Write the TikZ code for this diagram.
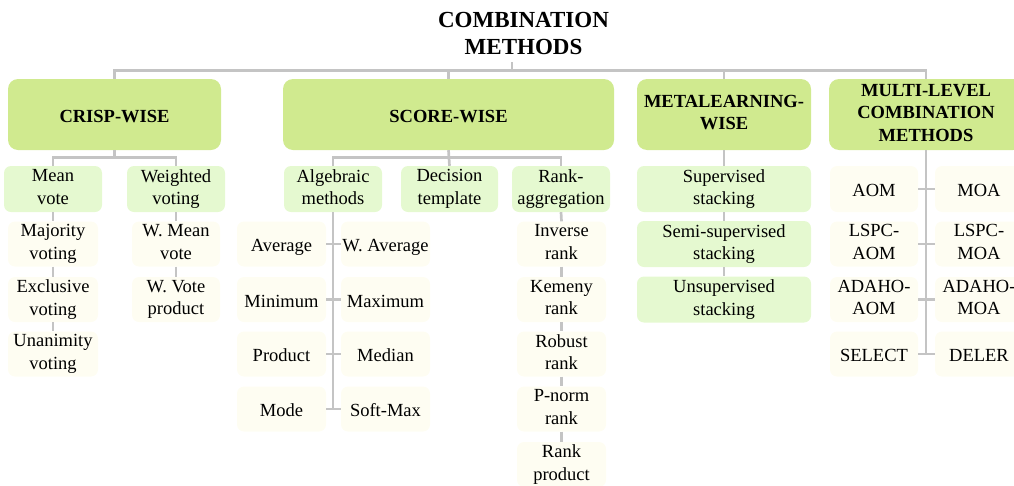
\documentclass[tikz,border=0pt]{standalone}
\usepackage{fontspec}
\setmainfont{Liberation Serif}
\usetikzlibrary{calc}

\definecolor{lvlonecol}{HTML}{D0EA8F}
\definecolor{lvltwocol}{HTML}{E5F9D0}
\definecolor{leafcol}{HTML}{FEFDF2}
\definecolor{linkcol}{HTML}{C4C4C4}

% invisible rule giving every text line the same height and depth
\newcommand\linestrut{\rule[-4pt]{0pt}{23.5pt}}

\tikzset{
  txt/.style={align=center, font=\fontsize{18.5}{22.5}\selectfont, inner sep=0pt,
    execute at begin node=\linestrut, execute at end node=\linestrut},
  lvlone/.style={fill=lvlonecol, rounded corners=10pt, align=center,
    font=\bfseries\fontsize{18.5}{22.5}\selectfont, inner sep=0pt, minimum height=71pt,
    execute at begin node=\linestrut, execute at end node=\linestrut},
  lvltwo/.style={txt, fill=lvltwocol, rounded corners=7pt, minimum height=46pt},
  leaf/.style={txt, fill=leafcol, rounded corners=7pt, minimum height=45pt},
  link/.style={draw=linkcol, line width=2.7pt}
}

\begin{document}
\begin{tikzpicture}[x=1pt, y=-1pt]
\useasboundingbox (0,0) rectangle (1014,485);

% title
\node[align=center, font=\bfseries\fontsize{23}{27}\selectfont, inner sep=0pt]
  (title) at (523.5,33.5) {COMBINATION\\METHODS};
\coordinate (ttop) at (512,62);
\coordinate (tjoin) at (512,70.5);

% first level
\node[lvlone, minimum width=213pt] (crisp) at (114.5,114.5) {CRISP-WISE};
\node[lvlone, minimum width=331pt] (score) at (448.5,114.5) {SCORE-WISE};
\node[lvlone, minimum width=174pt] (meta)  at (724,114.5) {METALEARNING-\\WISE};
\node[lvlone, minimum width=194pt] (multi) at (926,114.5) {MULTI-LEVEL\\COMBINATION\\METHODS};

% crisp-wise
\node[lvltwo, minimum width=98pt] (mean) at (53,189) {Mean\\vote};
\node[lvltwo, minimum width=98pt] (weighted) at (176,189) {Weighted\\voting};
\node[leaf, minimum width=90pt] (majority)  at (53,244) {Majority\\voting};
\node[leaf, minimum width=90pt] (exclusive) at (53,299.5) {Exclusive\\voting};
\node[leaf, minimum width=90pt] (unanimity) at (53,354) {Unanimity\\voting};
\node[leaf, minimum width=88pt] (wmean) at (176,244) {W. Mean\\vote};
\node[leaf, minimum width=88pt] (wvote) at (176,299.5) {W. Vote\\product};

% score-wise
\node[lvltwo, minimum width=98pt] (algebraic) at (333,189) {Algebraic\\methods};
\node[lvltwo, minimum width=97pt] (decision) at (449.5,189) {Decision\\template};
\node[lvltwo, minimum width=98pt] (rankagg) at (561,189) {Rank-\\aggregation};

\node[leaf, minimum width=89pt] (average) at (281.5,244) {Average};
\node[leaf, minimum width=89pt] (minimum) at (281.5,299.5) {Minimum};
\node[leaf, minimum width=89pt] (product) at (281.5,354) {Product};
\node[leaf, minimum width=89pt] (mode)    at (281.5,409) {Mode};
\node[leaf, minimum width=89pt] (waverage) at (385.5,244) {W. Average};
\node[leaf, minimum width=89pt] (maximum)  at (385.5,299.5) {Maximum};
\node[leaf, minimum width=89pt] (median)   at (385.5,354) {Median};
\node[leaf, minimum width=89pt] (softmax)  at (385.5,409) {Soft-Max};

\node[leaf, minimum width=89pt] (inverse) at (561.5,244) {Inverse\\rank};
\node[leaf, minimum width=89pt] (kemeny)  at (561.5,299.5) {Kemeny\\rank};
\node[leaf, minimum width=89pt] (robust)  at (561.5,354) {Robust\\rank};
\node[leaf, minimum width=89pt] (pnorm)   at (561.5,409) {P-norm\\rank};
\node[leaf, minimum width=89pt] (rankprod) at (561.5,464.5) {Rank\\product};

% metalearning-wise
\node[lvltwo, minimum width=174pt] (sup)   at (724,189) {Supervised\\stacking};
\node[lvltwo, minimum width=174pt] (semi)  at (724,244) {Semi-supervised\\stacking};
\node[lvltwo, minimum width=174pt] (unsup) at (724,299.5) {Unsupervised\\stacking};

% multi-level
\node[leaf, minimum width=88pt, minimum height=46pt] (aom) at (874,189) {AOM};
\node[leaf, minimum width=88pt] (lspcaom)  at (874,244) {LSPC-\\AOM};
\node[leaf, minimum width=88pt] (adahoaom) at (874,299.5) {ADAHO-\\AOM};
\node[leaf, minimum width=88pt] (select)   at (874,354) {SELECT};
\node[leaf, minimum width=88pt, minimum height=46pt] (moa) at (979,189) {MOA};
\node[leaf, minimum width=88pt] (lspcmoa)  at (979,244) {LSPC-\\MOA};
\node[leaf, minimum width=88pt] (adahomoa) at (979,299.5) {ADAHO-\\MOA};
\node[leaf, minimum width=88pt] (deler)    at (979,354) {DELER};

% top-level connectors
\draw[link] (ttop) -- (tjoin);
\draw[link] (crisp.north) -- (crisp.north |- tjoin) -- (multi.north |- tjoin) -- (multi.north);
\draw[link] (score.north) -- (score.north |- tjoin);
\draw[link] (meta.north) -- (meta.north |- tjoin);

% crisp-wise connectors
\draw[link] (crisp.south) -- ++(0,7.5);
\draw[link] (mean.north) -- ++(0,-8.5) -| (weighted.north);
\draw[link] (mean.south) -- (majority.north);
\draw[link] (majority.south) -- (exclusive.north);
\draw[link] (exclusive.south) -- (unanimity.north);
\draw[link] (weighted.south) -- (wmean.north);
\draw[link] (wmean.south) -- (wvote.north);

% score-wise connectors
\draw[link] (score.south) -- (decision.north);
\draw[link] (algebraic.north) -- ++(0,-8.5) -| (rankagg.north);
\draw[link] (algebraic.south) -- (algebraic.south |- mode.east);
\draw[link] (average.east) -- (waverage.west);
\draw[link] (minimum.east) -- (maximum.west);
\draw[link] (product.east) -- (median.west);
\draw[link] (mode.east) -- (softmax.west);
\draw[link] (rankagg.south) -- (inverse.north);
\draw[link] (inverse.south) -- (kemeny.north);
\draw[link] (kemeny.south) -- (robust.north);
\draw[link] (robust.south) -- (pnorm.north);
\draw[link] (pnorm.south) -- (rankprod.north);

% metalearning-wise connectors
\draw[link] (meta.south) -- (sup.north);
\draw[link] (sup.south) -- (semi.north);
\draw[link] (semi.south) -- (unsup.north);

% multi-level connectors
\draw[link] (multi.south) -- (multi.south |- select.east);
\draw[link] (aom.east) -- (moa.west);
\draw[link] (lspcaom.east) -- (lspcmoa.west);
\draw[link] (adahoaom.east) -- (adahomoa.west);
\draw[link] (select.east) -- (deler.west);
\end{tikzpicture}
\end{document}
